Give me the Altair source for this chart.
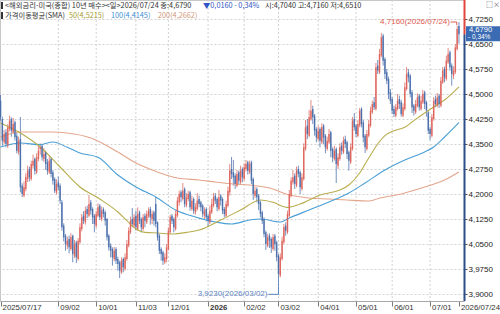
import json

import altair as alt
import numpy as np
import pandas as pd

# ---- daily candles: US 10-year Treasury yield (%) ----
opens = [
    4.480, 4.425, 4.355, 4.385, 4.345, 4.395, 4.425, 4.385, 4.415, 4.375,
    4.325, 4.365, 4.225, 4.195, 4.215, 4.245, 4.275, 4.245, 4.285, 4.305,
    4.265, 4.305, 4.335, 4.345, 4.305, 4.325, 4.295, 4.265, 4.305, 4.265,
    4.245, 4.205, 4.235, 4.225, 4.175, 4.105, 4.075, 4.045, 4.065, 4.035,
    4.075, 4.015, 4.055, 4.005, 4.055, 4.095, 4.135, 4.115, 4.155, 4.135,
    4.175, 4.155, 4.135, 4.105, 4.135, 4.165, 4.125, 4.155, 4.145, 4.125,
    4.075, 4.045, 4.035, 4.005, 4.035, 4.005, 3.995, 3.965, 4.005, 3.975,
    4.005, 4.045, 4.085, 4.125, 4.105, 4.135, 4.095, 4.145, 4.125, 4.095,
    4.135, 4.115, 4.135, 4.155, 4.125, 4.145, 4.170, 4.115, 4.075, 4.035,
    4.025, 3.995, 4.005, 4.035, 4.085, 4.135, 4.125, 4.095, 4.135, 4.175,
    4.205, 4.185, 4.215, 4.165, 4.185, 4.205, 4.155, 4.185, 4.145, 4.155,
    4.185, 4.175, 4.165, 4.135, 4.155, 4.135, 4.115, 4.145, 4.165, 4.195,
    4.185, 4.155, 4.195, 4.185, 4.155, 4.135, 4.165, 4.205, 4.275, 4.265,
    4.255, 4.225, 4.265, 4.235, 4.275, 4.245, 4.275, 4.295, 4.265, 4.295,
    4.245, 4.195, 4.215, 4.195, 4.175, 4.145, 4.125, 4.085, 4.045, 4.075,
    4.065, 4.035, 4.075, 4.055, 4.015, 3.955, 4.005, 4.055, 4.105, 4.085,
    4.135, 4.195, 4.235, 4.255, 4.225, 4.275, 4.265, 4.215, 4.245, 4.335,
    4.405, 4.375, 4.425, 4.455, 4.435, 4.395, 4.365, 4.395, 4.355, 4.405,
    4.375, 4.335, 4.355, 4.385, 4.335, 4.305, 4.335, 4.285, 4.305, 4.345,
    4.325, 4.365, 4.355, 4.325, 4.295, 4.335, 4.425, 4.405, 4.375, 4.405,
    4.455, 4.415, 4.375, 4.335, 4.375, 4.405, 4.445, 4.475, 4.455, 4.585,
    4.565, 4.615, 4.675, 4.605, 4.565, 4.545, 4.505, 4.485, 4.455, 4.435,
    4.455, 4.485, 4.475, 4.435, 4.455, 4.515, 4.565, 4.555, 4.505, 4.465,
    4.445, 4.465, 4.495, 4.455, 4.475, 4.505, 4.475, 4.445, 4.395, 4.375,
    4.425, 4.485, 4.465, 4.495, 4.465, 4.535, 4.575, 4.545, 4.595, 4.625,
    4.585, 4.555, 4.565, 4.635, 4.704,
]
highs = [
    4.497, 4.432, 4.392, 4.395, 4.410, 4.435, 4.430, 4.428, 4.420, 4.385,
    4.372, 4.431, 4.232, 4.238, 4.262, 4.285, 4.282, 4.300, 4.318, 4.310,
    4.322, 4.345, 4.352, 4.350, 4.338, 4.330, 4.305, 4.312, 4.310, 4.272,
    4.250, 4.244, 4.252, 4.232, 4.182, 4.112, 4.080, 4.072, 4.075, 4.082,
    4.078, 4.062, 4.060, 4.068, 4.112, 4.140, 4.148, 4.162, 4.165, 4.197,
    4.182, 4.160, 4.140, 4.150, 4.172, 4.170, 4.162, 4.160, 4.150, 4.128,
    4.080, 4.052, 4.040, 4.041, 4.040, 4.012, 4.000, 4.010, 4.010, 4.022,
    4.062, 4.100, 4.132, 4.158, 4.140, 4.150, 4.160, 4.150, 4.130, 4.140,
    4.142, 4.150, 4.160, 4.162, 4.150, 4.150, 4.191, 4.118, 4.080, 4.040,
    4.030, 4.022, 4.050, 4.100, 4.138, 4.140, 4.130, 4.150, 4.191, 4.210,
    4.212, 4.233, 4.220, 4.203, 4.210, 4.210, 4.195, 4.190, 4.172, 4.203,
    4.195, 4.180, 4.170, 4.160, 4.160, 4.140, 4.165, 4.185, 4.203, 4.203,
    4.190, 4.212, 4.200, 4.190, 4.161, 4.180, 4.222, 4.290, 4.311, 4.302,
    4.262, 4.272, 4.270, 4.285, 4.280, 4.292, 4.302, 4.300, 4.300, 4.300,
    4.250, 4.222, 4.220, 4.200, 4.180, 4.150, 4.130, 4.090, 4.080, 4.082,
    4.070, 4.080, 4.080, 4.060, 4.020, 4.022, 4.072, 4.110, 4.115, 4.150,
    4.212, 4.250, 4.272, 4.262, 4.282, 4.285, 4.270, 4.262, 4.352, 4.422,
    4.425, 4.452, 4.482, 4.465, 4.440, 4.400, 4.405, 4.400, 4.412, 4.410,
    4.380, 4.372, 4.395, 4.390, 4.340, 4.345, 4.340, 4.322, 4.352, 4.355,
    4.372, 4.375, 4.360, 4.330, 4.352, 4.431, 4.443, 4.410, 4.422, 4.458,
    4.460, 4.422, 4.380, 4.392, 4.422, 4.462, 4.480, 4.491, 4.593, 4.602,
    4.635, 4.683, 4.680, 4.610, 4.575, 4.552, 4.515, 4.491, 4.465, 4.470,
    4.500, 4.495, 4.482, 4.472, 4.535, 4.581, 4.575, 4.560, 4.512, 4.470,
    4.482, 4.502, 4.500, 4.495, 4.512, 4.510, 4.480, 4.450, 4.402, 4.440,
    4.491, 4.495, 4.503, 4.500, 4.551, 4.581, 4.582, 4.615, 4.638, 4.630,
    4.592, 4.583, 4.650, 4.705, 4.716,
]
lows = [
    4.420, 4.345, 4.350, 4.340, 4.338, 4.388, 4.372, 4.380, 4.360, 4.322,
    4.318, 4.205, 4.191, 4.190, 4.208, 4.236, 4.238, 4.240, 4.276, 4.258,
    4.260, 4.298, 4.318, 4.300, 4.296, 4.272, 4.258, 4.260, 4.250, 4.228,
    4.203, 4.198, 4.210, 4.170, 4.090, 4.058, 4.030, 4.035, 4.022, 4.030,
    3.995, 4.008, 3.993, 4.000, 4.050, 4.088, 4.110, 4.108, 4.128, 4.130,
    4.138, 4.110, 4.085, 4.098, 4.130, 4.122, 4.118, 4.130, 4.105, 4.060,
    4.030, 4.010, 3.985, 3.998, 3.990, 3.970, 3.948, 3.960, 3.965, 3.970,
    4.000, 4.040, 4.080, 4.100, 4.098, 4.090, 4.090, 4.110, 4.085, 4.090,
    4.100, 4.110, 4.128, 4.108, 4.110, 4.105, 4.100, 4.060, 4.020, 4.000,
    3.987, 3.990, 3.995, 4.030, 4.080, 4.110, 4.085, 4.090, 4.130, 4.165,
    4.175, 4.180, 4.160, 4.160, 4.178, 4.150, 4.150, 4.140, 4.138, 4.150,
    4.160, 4.148, 4.130, 4.122, 4.118, 4.101, 4.110, 4.140, 4.160, 4.170,
    4.148, 4.150, 4.165, 4.140, 4.130, 4.130, 4.160, 4.195, 4.245, 4.225,
    4.215, 4.220, 4.230, 4.230, 4.235, 4.240, 4.268, 4.258, 4.260, 4.230,
    4.182, 4.188, 4.175, 4.152, 4.130, 4.110, 4.070, 4.032, 4.040, 4.038,
    4.023, 4.030, 4.030, 3.998, 3.923, 3.950, 4.000, 4.050, 4.075, 4.080,
    4.130, 4.190, 4.228, 4.215, 4.220, 4.250, 4.200, 4.210, 4.240, 4.330,
    4.365, 4.370, 4.420, 4.410, 4.375, 4.355, 4.360, 4.340, 4.350, 4.350,
    4.322, 4.330, 4.350, 4.310, 4.295, 4.300, 4.233, 4.275, 4.300, 4.318,
    4.320, 4.338, 4.305, 4.270, 4.290, 4.330, 4.390, 4.371, 4.370, 4.400,
    4.400, 4.355, 4.323, 4.330, 4.370, 4.400, 4.440, 4.452, 4.450, 4.560,
    4.560, 4.610, 4.585, 4.545, 4.530, 4.485, 4.470, 4.440, 4.431, 4.430,
    4.450, 4.455, 4.432, 4.430, 4.450, 4.510, 4.535, 4.490, 4.443, 4.435,
    4.440, 4.460, 4.450, 4.450, 4.470, 4.455, 4.432, 4.380, 4.362, 4.370,
    4.420, 4.460, 4.460, 4.458, 4.460, 4.530, 4.535, 4.540, 4.590, 4.570,
    4.525, 4.545, 4.560, 4.630, 4.651,
]
closes = [
    4.430, 4.360, 4.380, 4.350, 4.400, 4.420, 4.390, 4.410, 4.370, 4.330,
    4.360, 4.220, 4.200, 4.220, 4.250, 4.270, 4.250, 4.290, 4.300, 4.270,
    4.310, 4.330, 4.340, 4.310, 4.320, 4.290, 4.270, 4.300, 4.260, 4.240,
    4.210, 4.230, 4.220, 4.180, 4.100, 4.070, 4.050, 4.060, 4.040, 4.070,
    4.020, 4.050, 4.010, 4.060, 4.100, 4.130, 4.120, 4.150, 4.140, 4.170,
    4.150, 4.130, 4.110, 4.140, 4.160, 4.130, 4.150, 4.140, 4.120, 4.070,
    4.040, 4.030, 4.010, 4.030, 4.000, 3.990, 3.970, 4.000, 3.980, 4.010,
    4.050, 4.090, 4.120, 4.110, 4.130, 4.100, 4.140, 4.120, 4.100, 4.130,
    4.120, 4.140, 4.150, 4.130, 4.140, 4.120, 4.110, 4.070, 4.030, 4.020,
    4.000, 4.010, 4.040, 4.090, 4.130, 4.120, 4.100, 4.140, 4.180, 4.200,
    4.190, 4.210, 4.170, 4.190, 4.200, 4.160, 4.180, 4.150, 4.160, 4.180,
    4.170, 4.160, 4.140, 4.150, 4.130, 4.120, 4.150, 4.170, 4.190, 4.180,
    4.160, 4.190, 4.180, 4.150, 4.140, 4.170, 4.210, 4.270, 4.260, 4.250,
    4.230, 4.260, 4.240, 4.270, 4.250, 4.280, 4.290, 4.270, 4.290, 4.240,
    4.200, 4.210, 4.190, 4.170, 4.140, 4.120, 4.080, 4.050, 4.070, 4.060,
    4.040, 4.070, 4.050, 4.010, 3.960, 4.010, 4.060, 4.100, 4.090, 4.140,
    4.200, 4.240, 4.250, 4.230, 4.270, 4.260, 4.220, 4.250, 4.340, 4.400,
    4.380, 4.430, 4.450, 4.430, 4.390, 4.370, 4.390, 4.360, 4.400, 4.370,
    4.340, 4.360, 4.380, 4.330, 4.310, 4.330, 4.290, 4.310, 4.340, 4.330,
    4.360, 4.350, 4.320, 4.300, 4.340, 4.420, 4.400, 4.380, 4.410, 4.450,
    4.410, 4.370, 4.340, 4.380, 4.410, 4.450, 4.470, 4.460, 4.580, 4.570,
    4.620, 4.670, 4.600, 4.560, 4.540, 4.500, 4.480, 4.450, 4.440, 4.460,
    4.480, 4.470, 4.440, 4.460, 4.520, 4.560, 4.550, 4.500, 4.460, 4.450,
    4.470, 4.490, 4.460, 4.480, 4.500, 4.470, 4.450, 4.390, 4.380, 4.430,
    4.480, 4.470, 4.490, 4.470, 4.540, 4.570, 4.550, 4.600, 4.620, 4.580,
    4.560, 4.570, 4.640, 4.695, 4.679,
]

# ---- simple moving averages, sampled along the session index ----
sma50_at = [0, 11, 22, 33, 44, 55, 65, 70, 75, 80, 87, 96, 103, 110, 122, 133, 144,
            151, 159, 166, 177, 188, 193, 199, 204, 209, 213, 218, 224, 229, 235, 240, 246, 254]
sma50 = [4.413, 4.383, 4.341, 4.281, 4.221, 4.185, 4.146, 4.120, 4.095, 4.085, 4.083, 4.080,
         4.085, 4.092, 4.122, 4.152, 4.182, 4.175, 4.160, 4.170, 4.197, 4.212, 4.227, 4.263,
         4.308, 4.350, 4.375, 4.390, 4.400, 4.420, 4.443, 4.461, 4.482, 4.5215]
sma100_at = [0, 11, 22, 29, 37, 44, 54, 65, 75, 86, 97, 108, 119, 128, 138, 144, 155, 160,
             171, 182, 193, 202, 213, 224, 235, 240, 246, 254]
sma100 = [4.341, 4.353, 4.348, 4.356, 4.340, 4.323, 4.310, 4.257, 4.221, 4.191, 4.152, 4.131,
          4.116, 4.110, 4.122, 4.125, 4.116, 4.128, 4.152, 4.176, 4.203, 4.233, 4.272, 4.302,
          4.326, 4.341, 4.371, 4.4145]
sma200_at = [0, 11, 28, 37, 50, 65, 74, 87, 98, 110, 119, 129, 138, 149, 160, 171, 182, 192,
             204, 209, 224, 235, 246, 254]
sma200 = [4.371, 4.386, 4.386, 4.383, 4.368, 4.326, 4.296, 4.266, 4.248, 4.242, 4.236, 4.230,
          4.227, 4.218, 4.197, 4.188, 4.185, 4.182, 4.179, 4.186, 4.203, 4.221, 4.242, 4.2662]

# ---- x-axis labels ----
tick_dates = ["2025/07/17", "2025/09/02", "2025/10/01", "2025/11/03", "2025/12/01",
              "2026/01/02", "2026/02/02", "2026/03/02", "2026/04/01", "2026/05/01",
              "2026/06/01", "2026/07/01", "2026/07/24"]
tick_text = ["2025/07/17", "09/02", "10/01", "11/03", "12/01", "2026", "02/02", "03/02",
             "04/01", "05/01", "06/01", "07/01", "2026/07/24"]

# bond-market holidays skipped by the session calendar
holidays = {"2025-09-01", "2025-10-13", "2025-11-11", "2025-11-27", "2025-12-25",
            "2026-01-01", "2026-01-19", "2026-02-16", "2026-04-03", "2026-05-25",
            "2026-06-19", "2026-07-03"}

N = len(closes)
sessions = [d for d in pd.bdate_range("2025-07-01", "2026-07-24")
            if d.strftime("%Y-%m-%d") not in holidays][-N:]
session_labels = [d.strftime("%Y/%m/%d") for d in sessions]


def session_index(label):
    for k, s in enumerate(session_labels):
        if s >= label:
            return k
    return N - 1


tick_idx = [session_index(t) for t in tick_dates]
idx_2026 = tick_idx[tick_text.index("2026")]

df = pd.DataFrame({"i": np.arange(N), "date": session_labels, "open": opens,
                   "high": highs, "low": lows, "close": closes})
df["dir"] = np.where(df["close"] >= df["open"], "up", "down")

RED = "#dc5a52"
BLUE = "#3f66a6"
SANS = "Liberation Sans, Arial, sans-serif"
KR = "Noto Sans CJK KR"

Y_LO, Y_HI = 3.879, 4.782
PLOT_W, PLOT_H = 464, 301
px_per_unit = PLOT_H / (Y_HI - Y_LO)

x_scale = alt.Scale(domain=[-0.3, 256.8], nice=False, zero=False)
y_scale = alt.Scale(domain=[Y_LO, Y_HI], nice=False, zero=False)
y_ticks = [round(3.9 + 0.075 * k, 4) for k in range(12)]

x_axis = alt.Axis(
    values=tick_idx,
    labelExpr=f"{json.dumps(tick_text)}[indexof({json.dumps(tick_idx)}, datum.value)]",
    grid=False, domain=True, domainColor="#a8a8a8", ticks=True, tickColor="#7a7a7a",
    tickSize=5, labelAlign="left", labelBaseline="top", labelPadding=-3, labelOffset=1.5,
    labelFont=SANS, labelFontSize=7.8, labelColor="#333333", labelOverlap=False,
    labelBound=False, labelFlush=False, title=None,
    labelFontWeight={"condition": {"test": f"datum.value == {idx_2026}", "value": "bold"},
                     "value": "normal"},
)
y_axis = alt.Axis(
    orient="right", values=y_ticks,
    labelExpr="replace(format(datum.value, '.4f'), '.', ',')",
    grid=True, gridColor="#d2d2d2", gridDash=[2, 2], domain=False, ticks=True,
    tickColor="#555555", tickSize=3, labelPadding=1, labelFont=SANS, labelFontSize=8,
    labelColor="#222222", title=None, labelOverlap=False, labelBound=False, labelFlush=False,
)

color_dir = alt.Color("dir:N", scale=alt.Scale(domain=["up", "down"], range=[RED, BLUE]),
                      legend=None)

# shared scales; axes drawn only by the first layer (axes resolved independently)
X = lambda f: alt.X(f, scale=x_scale, axis=None)
Y = lambda f: alt.Y(f, scale=y_scale, axis=None)
Y_AT = lambda v: alt.Y(datum=v, type="quantitative", scale=y_scale, axis=None)

candles = alt.Chart(df)

frame = candles.mark_rule(opacity=0).encode(
    x=alt.X("i:Q", scale=x_scale, axis=x_axis),
    y=alt.Y("low:Q", scale=y_scale, axis=y_axis),
    y2="high:Q",
)

# vertical dotted grid at the month ticks
vgrid = alt.Chart(pd.DataFrame({"i": tick_idx[1:-1]})).mark_rule(
    color="#d2d2d2", strokeDash=[2, 2], strokeWidth=1
).encode(x=X("i:Q"))


def ma_layer(at, vals, color):
    return alt.Chart(pd.DataFrame({"i": at, "v": vals})).mark_line(
        color=color, strokeWidth=1.1, interpolate="monotone"
    ).encode(x=X("i:Q"), y=Y("v:Q"))


ma200 = ma_layer(sma200_at, sma200, "#e3a68c")
ma100 = ma_layer(sma100_at, sma100, "#4a9fd6")
ma50 = ma_layer(sma50_at, sma50, "#b8ad4e")

wicks = candles.mark_rule(strokeWidth=0.9, opacity=0.8).encode(
    x=X("i:Q"), y=Y("low:Q"), y2="high:Q", color=color_dir)
bodies = candles.mark_rule(strokeWidth=1.5, opacity=0.82).encode(
    x=X("i:Q"), y=Y("open:Q"), y2="close:Q", color=color_dir)

# high / low annotations
hi = int(np.argmax(highs))
lo = int(np.argmin(lows))
fmt = lambda v: f"{v:.4f}".replace(".", ",")
hook = 3 / px_per_unit
drop = 8 / px_per_unit
ann_hi = pd.DataFrame({"i": [hi], "v": [highs[hi]],
                       "t": [f"{fmt(highs[hi])}({session_labels[hi]})"]})
ann_lo = pd.DataFrame({"i": [lo], "v": [lows[lo]],
                       "t": [f"{fmt(lows[lo])}({session_labels[lo]})"]})

hi_text = alt.Chart(ann_hi).mark_text(
    align="right", baseline="middle", dx=-9, color=RED, font=SANS, fontSize=8
).encode(x=X("i:Q"), y=Y("v:Q"), text="t:N")
hi_line = alt.Chart(ann_hi).transform_calculate(
    a="datum.i - 4.6", b="datum.i - 1.2"
).mark_rule(color=RED, strokeWidth=1).encode(x=X("a:Q"), x2="b:Q", y=Y("v:Q"))
hi_hook = alt.Chart(ann_hi).transform_calculate(
    b="datum.i - 1.2", w=f"datum.v - {hook}"
).mark_rule(color=RED, strokeWidth=1).encode(x=X("b:Q"), y=Y("v:Q"), y2="w:Q")

LOW_C = "#5d84bf"
lo_text = alt.Chart(ann_lo).transform_calculate(w=f"datum.v - {drop}").mark_text(
    align="right", baseline="middle", dx=-11, color=LOW_C, font=SANS, fontSize=8
).encode(x=X("i:Q"), y=Y("w:Q"), text="t:N")
lo_line = alt.Chart(ann_lo).transform_calculate(
    a="datum.i - 5.6", w=f"datum.v - {drop}"
).mark_rule(color=LOW_C, strokeWidth=1).encode(x=X("a:Q"), x2="i:Q", y=Y("w:Q"))
lo_hook = alt.Chart(ann_lo).transform_calculate(w=f"datum.v - {drop}").mark_rule(
    color=LOW_C, strokeWidth=1
).encode(x=X("i:Q"), y=Y("v:Q"), y2="w:Q")

# right price axis line: red above the last price, blue below
last = closes[-1]
prev = closes[-2]
pct = f"{abs(last - prev) / prev * 100:.2f}%".replace(".", ",")
one = pd.DataFrame({"k": [0]})
axis_red = alt.Chart(one).mark_rule(color="#e0463c", strokeWidth=2).encode(
    x=alt.value(PLOT_W + 0.5), y=Y_AT(last), y2=alt.value(0))
axis_blue = alt.Chart(one).mark_rule(color="#2c4f8c", strokeWidth=2).encode(
    x=alt.value(PLOT_W + 0.5), y=Y_AT(last), y2=alt.value(PLOT_H))
price_box = alt.Chart(one).mark_rect(color="#3a6bb3", yOffset=-8, y2Offset=7).encode(
    x=alt.value(PLOT_W + 2), x2=alt.value(500), y=Y_AT(last), y2=alt.Y2(datum=last))
price_txt = alt.Chart(one).mark_text(
    align="left", baseline="middle", dy=-4.3, color="white", font=SANS, fontSize=7.6
).encode(x=alt.value(PLOT_W + 5), y=Y_AT(last), text=alt.value(fmt(last)))
chg_txt = alt.Chart(one).mark_text(
    align="left", baseline="middle", dy=2.9, color="white", font=SANS, fontSize=6.5
).encode(x=alt.value(PLOT_W + 4), y=Y_AT(last), text=alt.value(f"- {pct}"))


def caption(text, x, y, color, size=7.3, font=KR):
    return alt.Chart(one).mark_text(
        align="left", baseline="middle", color=color, font=font, fontSize=size
    ).encode(x=alt.value(x), y=alt.value(y), text=alt.value(text))


def marker(y0, y1):
    return alt.Chart(one).mark_rule(color="#333333", strokeWidth=2).encode(
        x=alt.value(2), y=alt.value(y0), y2=alt.value(y1))


header = [
    marker(2, 9),
    caption("<해외금리-미국(종합) 10년 매수><일>2026/07/24 종:" + fmt(last), 5, 5.5, "#333333"),
    caption("▼" + fmt(prev - last) + " - " + pct, 203, 5.5, "#2f55c4"),
    caption(f"시:{fmt(opens[-1])} 고:{fmt(highs[-1])} 저:{fmt(lows[-1])}", 265, 5.5, "#333333"),
    marker(12, 19),
    caption("가격이동평균(SMA)", 5, 15.5, "#333333"),
    caption(f"50({fmt(sma50[-1])})", 69, 15.5, "#a99c30"),
    caption(f"100({fmt(sma100[-1])})", 111, 15.5, "#3d8fd3"),
    caption(f"200({fmt(sma200[-1])})", 158, 15.5, "#d39a7c"),
    caption("□×", 486, 5, "#555555", size=7),
]

chart = alt.layer(
    frame, vgrid, wicks, ma200, ma100, ma50, bodies,
    hi_line, hi_hook, hi_text, lo_line, lo_hook, lo_text,
    axis_blue, axis_red, price_box, price_txt, chg_txt,
    *header,
).resolve_axis(x="independent", y="independent").properties(
    width=PLOT_W, height=PLOT_H, background="white",
    autosize=alt.AutoSizeParams(type="none"),
    padding={"left": 0, "top": 0, "right": 500 - PLOT_W, "bottom": 314 - PLOT_H},
).configure_view(stroke="#c8c8c8").configure_axis(labelOverlap=False)

chart.save("out.html", embed_options={"renderer": "svg", "actions": False})
